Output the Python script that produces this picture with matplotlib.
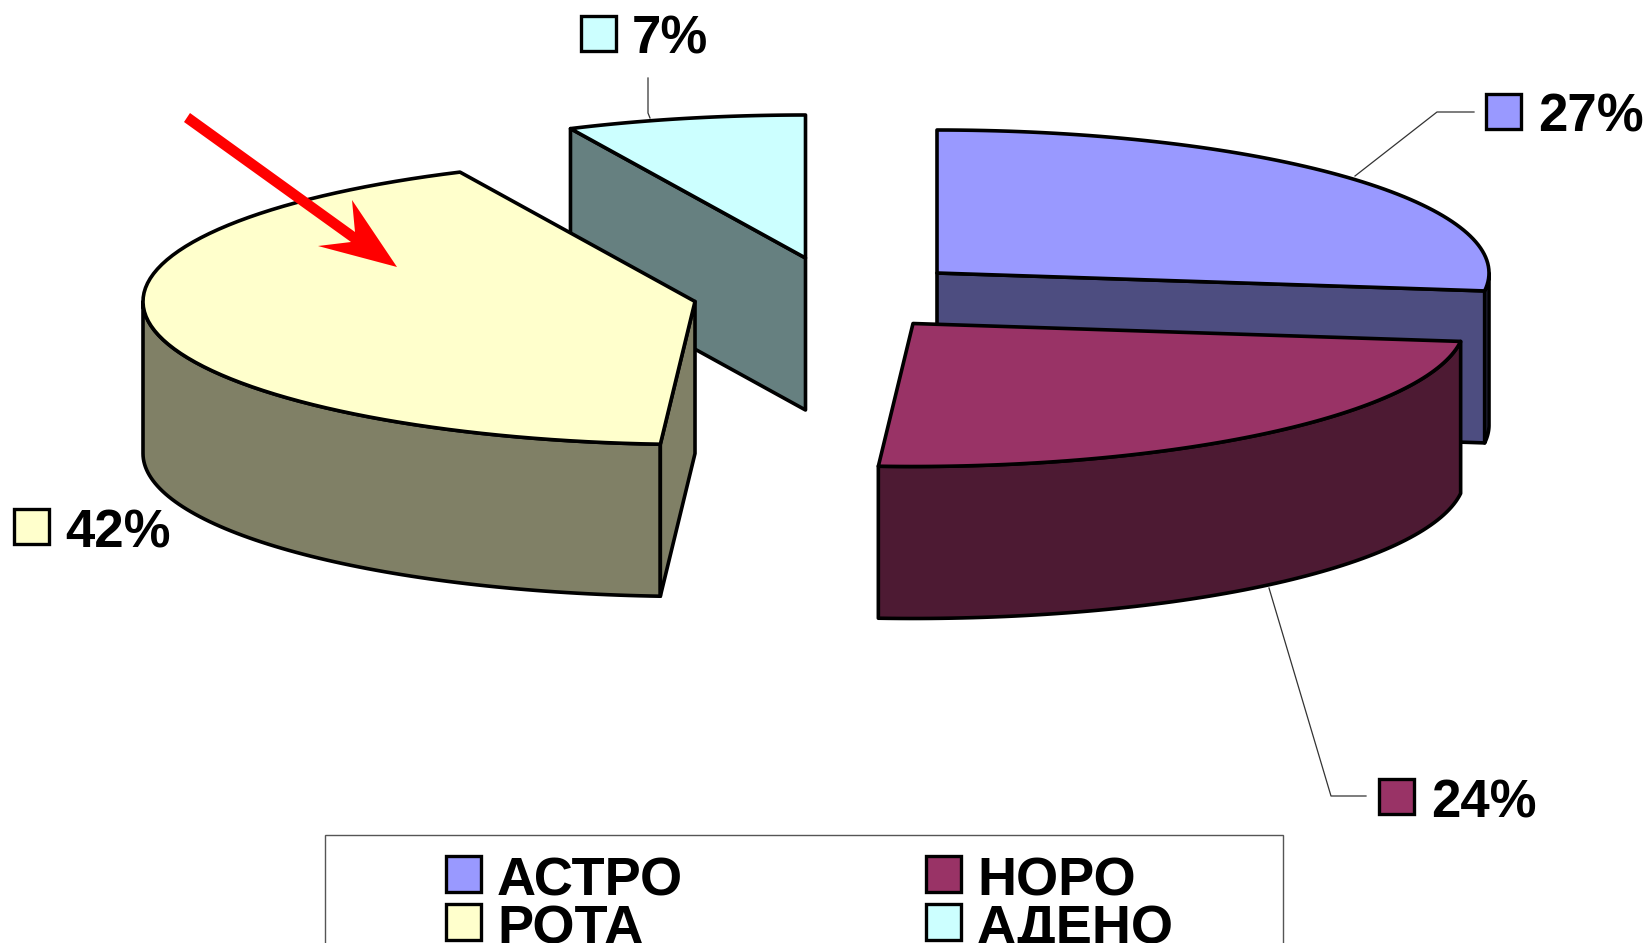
import numpy as np
import matplotlib
matplotlib.use("Agg")
from matplotlib import pyplot as plt
from matplotlib.patches import Polygon, Rectangle

plt.rcParams['font.family'] = ['Liberation Sans', 'DejaVu Sans']

names = ["АСТРО", "НОРО", "РОТА", "АДЕНО"]
values = [27, 24, 42, 7]
colors = ["#9999FF", "#993366", "#FFFFCC", "#CCFFFF"]
side_colors = ["#4D4D80", "#4D1A33", "#808066", "#668080"]

# Exploded position of every slice, in pixels
centers = [(937, 273), (913, 323.5), (695, 301.5), (805.5, 258)]
rx, ry, depth = 552, 143, 152

# Swatch corner and text start for the percentage labels
label_boxes = [(1486, 94), (1379, 779), (14, 509), (581, 16)]
label_text_x = [1538, 1431, 65, 632]

# Leader lines, label to slice
leaders = [[(1355, 176), (1437, 112), (1474, 112)],
           [(1269, 588), (1331, 796), (1366, 796)],
           [],
           [(650, 118), (648, 113), (648, 78)]]

EDGE = 2.6


def rim(center, t0, t1, n=80):
    t = np.radians(np.linspace(t0, t1, n))
    return np.column_stack((center[0] + rx * np.sin(t), center[1] - ry * np.cos(t)))


def add_poly(ax, pts, color):
    ax.add_patch(Polygon(pts, closed=True, facecolor=color, edgecolor="black",
                         linewidth=EDGE, joinstyle="round"))


def draw_slice(ax, center, t0, t1, color, side):
    c = np.array(center)
    down = np.array([0, depth])

    # outer wall, only the part that faces the viewer
    a, b = max(t0, 90), min(t1, 270)
    if a < b:
        arc = rim(center, a, b)
        add_poly(ax, np.vstack((arc, arc[::-1] + down)), side)

    # cut faces: the start face shows on the left half, the end face on the right half
    if t0 > 180:
        p = rim(center, t0, t0, 1)[0]
        add_poly(ax, [c, p, p + down, c + down], side)
    if t1 < 180:
        p = rim(center, t1, t1, 1)[0]
        add_poly(ax, [c, p, p + down, c + down], side)

    add_poly(ax, np.vstack((c, rim(center, t0, t1))), color)


fig = plt.figure(figsize=(16.47, 9.43), dpi=100)
ax = fig.add_axes([0, 0, 1, 1])
ax.set_xlim(0, 1647)
ax.set_ylim(943, 0)
ax.axis("off")

# Clockwise from 12 o'clock
ends = np.cumsum(values) / sum(values) * 360
starts = np.concatenate(([0], ends[:-1]))

# Back slices first, the yellow one overlaps the grey wall of the small one
for i in [0, 1, 3, 2]:
    draw_slice(ax, centers[i], starts[i], ends[i], colors[i], side_colors[i])

for i in range(len(values)):
    if leaders[i]:
        xs, ys = zip(*leaders[i])
        ax.plot(xs, ys, color="#333333", linewidth=0.9)
    x, y = label_boxes[i]
    ax.add_patch(Rectangle((x, y), 35, 35, facecolor=colors[i], edgecolor="black", linewidth=2.4))
    ax.text(label_text_x[i], y + 38, str(values[i]) + "%", fontsize=38, fontweight="bold",
            ha="left", va="baseline", color="black")

# Red arrow pointing at the rotavirus slice
ax.add_patch(Polygon([(190, 113), (184, 122), (351, 242), (318, 246), (397, 267),
                      (352, 200), (355, 232)], closed=True, facecolor="#FF0000", edgecolor="none"))

# Legend box, it runs past the bottom of the figure
ax.add_patch(Rectangle((324.5, 835), 958, 200, facecolor="white", edgecolor="#555555", linewidth=1.0))
legend_x = [446, 926, 446, 926]
legend_y = [856, 856, 904, 904]
for i in [0, 1, 2, 3]:
    ax.add_patch(Rectangle((legend_x[i], legend_y[i]), 35, 36, facecolor=colors[i],
                           edgecolor="black", linewidth=2.4))
    ax.text(legend_x[i] + 51, legend_y[i] + 39, names[i], fontsize=39, fontweight="bold",
            ha="left", va="baseline", color="black")

fig.savefig("out.png", dpi=100)
